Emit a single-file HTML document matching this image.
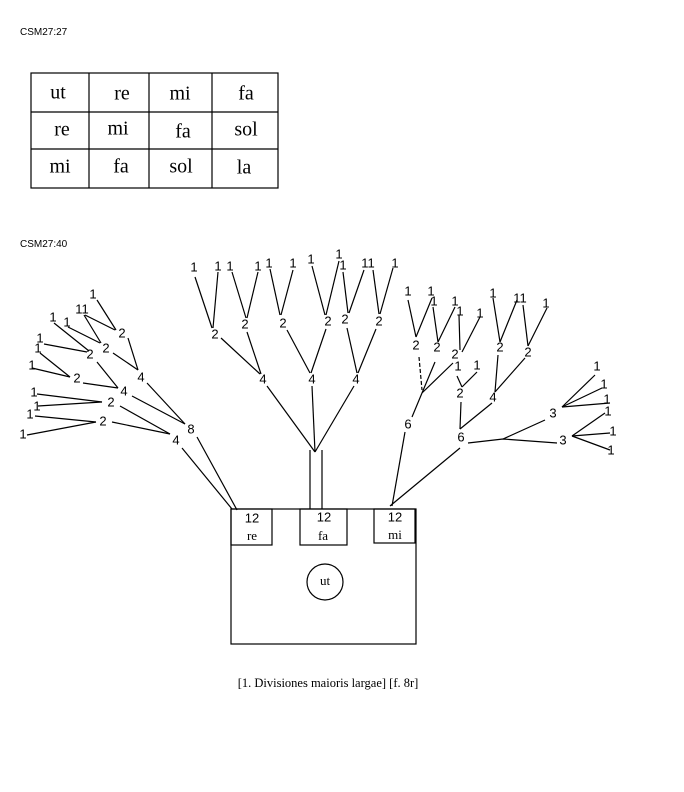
<!DOCTYPE html>
<html><head><meta charset="utf-8"><style>
body{margin:0;background:#fff}
svg{display:block}
.n{font-family:"Liberation Sans",sans-serif;font-size:13px;fill:#000;text-anchor:middle;dominant-baseline:middle}
.t{font-family:"Liberation Serif",serif;font-size:20px;fill:#000;text-anchor:middle;dominant-baseline:middle}
.b{font-family:"Liberation Serif",serif;font-size:13px;fill:#000;text-anchor:middle;dominant-baseline:middle}
line,polyline,rect,circle{stroke:#000;stroke-width:1.2;fill:none}
</style></head><body>
<svg width="684" height="792" viewBox="0 0 684 792">
<text x="20" y="35" font-family="Liberation Sans,sans-serif" font-size="10">CSM27:27</text>
<text x="20" y="247" font-family="Liberation Sans,sans-serif" font-size="10">CSM27:40</text>
<!-- table -->
<rect x="31" y="73" width="247" height="115" stroke-width="2"/>
<line x1="89" y1="73" x2="89" y2="188" stroke-width="2"/>
<line x1="149" y1="73" x2="149" y2="188"/>
<line x1="212" y1="73" x2="212" y2="188" stroke-width="1.6"/>
<line x1="31" y1="112" x2="278" y2="112"/>
<line x1="31" y1="149" x2="278" y2="149"/>
<text class="t" x="58" y="94">ut</text><text class="t" x="122" y="95">re</text><text class="t" x="180" y="95">mi</text><text class="t" x="246" y="95">fa</text>
<text class="t" x="62" y="131">re</text><text class="t" x="118" y="130">mi</text><text class="t" x="183" y="133">fa</text><text class="t" x="246" y="131">sol</text>
<text class="t" x="60" y="168">mi</text><text class="t" x="121" y="168">fa</text><text class="t" x="181" y="168">sol</text><text class="t" x="244" y="169">la</text>

<!-- box -->
<rect x="231" y="509" width="185" height="135"/>
<rect x="231" y="509" width="41" height="36"/>
<rect x="300" y="509" width="47" height="36"/>
<rect x="374" y="509" width="41" height="34"/>
<circle cx="325" cy="582" r="18"/>
<text class="n" x="252" y="519">12</text><text class="b" x="252" y="537">re</text>
<text class="n" x="324" y="518">12</text><text class="b" x="323" y="537">fa</text>
<text class="n" x="395" y="518">12</text><text class="b" x="395" y="536">mi</text>
<text class="b" x="325" y="582">ut</text>

<!-- trunk -->
<line x1="310" y1="450" x2="310" y2="509"/><line x1="322" y1="450" x2="322" y2="509"/>
<line x1="312" y1="386" x2="315" y2="452"/>
<line x1="267" y1="386" x2="315" y2="452"/><line x1="354" y1="386" x2="315" y2="452"/>
<!-- center 4s to 2s -->
<line x1="221" y1="338" x2="260" y2="374"/><line x1="247" y1="332" x2="261" y2="374"/>
<line x1="287" y1="330" x2="310" y2="373"/><line x1="326" y1="329" x2="311" y2="373"/>
<line x1="347" y1="328" x2="357" y2="373"/><line x1="376" y1="329" x2="358" y2="373"/>
<!-- center 2s to leaves -->
<line x1="195" y1="277" x2="212" y2="328"/><line x1="218" y1="272" x2="213" y2="328"/>
<line x1="232" y1="272" x2="246" y2="318"/><line x1="258" y1="272" x2="247" y2="318"/>
<line x1="270" y1="269" x2="280" y2="315"/><line x1="293" y1="270" x2="281" y2="315"/>
<line x1="312" y1="266" x2="325" y2="315"/><line x1="339" y1="261" x2="326" y2="315"/>
<line x1="343" y1="272" x2="348" y2="313"/><line x1="364" y1="270" x2="349" y2="313"/>
<line x1="373" y1="270" x2="379" y2="314"/><line x1="393" y1="268" x2="380" y2="314"/>
<text class="n" x="215" y="335">2</text><text class="n" x="245" y="325">2</text><text class="n" x="283" y="324">2</text><text class="n" x="328" y="322">2</text><text class="n" x="345" y="320">2</text><text class="n" x="379" y="322">2</text>
<text class="n" x="263" y="380">4</text><text class="n" x="312" y="380">4</text><text class="n" x="356" y="380">4</text>
<text class="n" x="194" y="268">1</text><text class="n" x="218" y="267">1</text><text class="n" x="230" y="267">1</text><text class="n" x="258" y="267">1</text><text class="n" x="269" y="264">1</text><text class="n" x="293" y="264">1</text><text class="n" x="311" y="260">1</text><text class="n" x="339" y="255">1</text><text class="n" x="343" y="266">1</text><text class="n" x="368" y="264">11</text><text class="n" x="395" y="264">1</text>

<!-- left tree -->
<line x1="197" y1="437" x2="237" y2="510"/><line x1="182" y1="448" x2="232" y2="509"/>
<line x1="147" y1="383" x2="185" y2="424"/><line x1="132" y1="396" x2="185" y2="424"/>
<line x1="120" y1="406" x2="170" y2="434"/><line x1="112" y1="422" x2="170" y2="434"/>
<line x1="128" y1="338" x2="138" y2="370"/><line x1="113" y1="353" x2="138" y2="370"/>
<line x1="97" y1="362" x2="118" y2="388"/><line x1="83" y1="383" x2="118" y2="388"/>
<line x1="97" y1="300" x2="116" y2="330"/><line x1="85" y1="315" x2="115" y2="330"/>
<line x1="84" y1="315" x2="101" y2="343"/><line x1="68" y1="327" x2="100" y2="343"/>
<line x1="54" y1="323" x2="89" y2="351"/><line x1="44" y1="344" x2="87" y2="352"/>
<line x1="40" y1="353" x2="70" y2="377"/><line x1="32" y1="368" x2="70" y2="377"/>
<line x1="37" y1="394" x2="102" y2="402"/><line x1="38" y1="406" x2="102" y2="402"/>
<line x1="35" y1="416" x2="96" y2="422"/><line x1="27" y1="435" x2="96" y2="422"/>
<text class="n" x="93" y="295">1</text><text class="n" x="82" y="310">11</text><text class="n" x="53" y="318">1</text><text class="n" x="67" y="323">1</text>
<text class="n" x="122" y="334">2</text><text class="n" x="106" y="349">2</text><text class="n" x="90" y="355">2</text>
<text class="n" x="40" y="339">1</text><text class="n" x="38" y="349">1</text><text class="n" x="32" y="366">1</text>
<text class="n" x="77" y="379">2</text><text class="n" x="141" y="378">4</text><text class="n" x="124" y="392">4</text><text class="n" x="111" y="403">2</text>
<text class="n" x="34" y="393">1</text><text class="n" x="37" y="407">1</text><text class="n" x="30" y="415">1</text><text class="n" x="103" y="422">2</text><text class="n" x="23" y="435">1</text>
<text class="n" x="191" y="430">8</text><text class="n" x="176" y="441">4</text>

<!-- right tree -->
<line x1="392" y1="506" x2="405" y2="432"/><line x1="390" y1="506" x2="460" y2="448"/>
<line x1="412" y1="417" x2="422" y2="393"/>
<line x1="419" y1="357" x2="422" y2="390" stroke-dasharray="4,2"/><line x1="435" y1="362" x2="422" y2="393"/><line x1="453" y1="363" x2="422" y2="393"/>
<line x1="408" y1="300" x2="416" y2="337"/><line x1="432" y1="298" x2="416" y2="337"/>
<line x1="433" y1="307" x2="438" y2="342"/><line x1="455" y1="307" x2="438" y2="342"/>
<line x1="459" y1="315" x2="460" y2="350"/><line x1="480" y1="317" x2="462" y2="352"/>
<line x1="457" y1="376" x2="462" y2="387"/><line x1="477" y1="372" x2="462" y2="387"/>
<line x1="461" y1="402" x2="460" y2="429"/><line x1="492" y1="403" x2="460" y2="429"/>
<line x1="493" y1="298" x2="500" y2="342"/><line x1="517" y1="300" x2="500" y2="342"/>
<line x1="523" y1="305" x2="528" y2="346"/><line x1="547" y1="308" x2="528" y2="346"/>
<line x1="498" y1="355" x2="495" y2="392"/><line x1="525" y1="358" x2="495" y2="392"/>
<polyline points="468,443 503,439 557,443"/><line x1="503" y1="439" x2="545" y2="420"/>
<line x1="562" y1="407" x2="595" y2="375"/><line x1="562" y1="407" x2="602" y2="388"/><line x1="562" y1="407" x2="610" y2="403"/>
<line x1="572" y1="436" x2="605" y2="413"/><line x1="572" y1="436" x2="610" y2="433"/><line x1="572" y1="436" x2="610" y2="450"/>
<text class="n" x="408" y="292">1</text><text class="n" x="431" y="292">1</text><text class="n" x="434" y="302">1</text><text class="n" x="455" y="302">1</text><text class="n" x="460" y="312">1</text><text class="n" x="480" y="314">1</text>
<text class="n" x="416" y="346">2</text><text class="n" x="437" y="348">2</text><text class="n" x="455" y="355">2</text>
<text class="n" x="458" y="367">1</text><text class="n" x="477" y="366">1</text><text class="n" x="460" y="394">2</text>
<text class="n" x="493" y="294">1</text><text class="n" x="520" y="299">11</text><text class="n" x="546" y="304">1</text>
<text class="n" x="500" y="348">2</text><text class="n" x="528" y="353">2</text><text class="n" x="493" y="398">4</text>
<text class="n" x="553" y="414">3</text><text class="n" x="563" y="441">3</text>
<text class="n" x="408" y="425">6</text><text class="n" x="461" y="438">6</text>
<text class="n" x="597" y="367">1</text><text class="n" x="604" y="385">1</text><text class="n" x="607" y="400">1</text><text class="n" x="608" y="412">1</text><text class="n" x="613" y="432">1</text><text class="n" x="611" y="451">1</text>

<text x="328" y="687" text-anchor="middle" font-family="Liberation Serif,serif" font-size="12.5">[1. Divisiones maioris largae] [f. 8r]</text>
</svg>
</body></html>
